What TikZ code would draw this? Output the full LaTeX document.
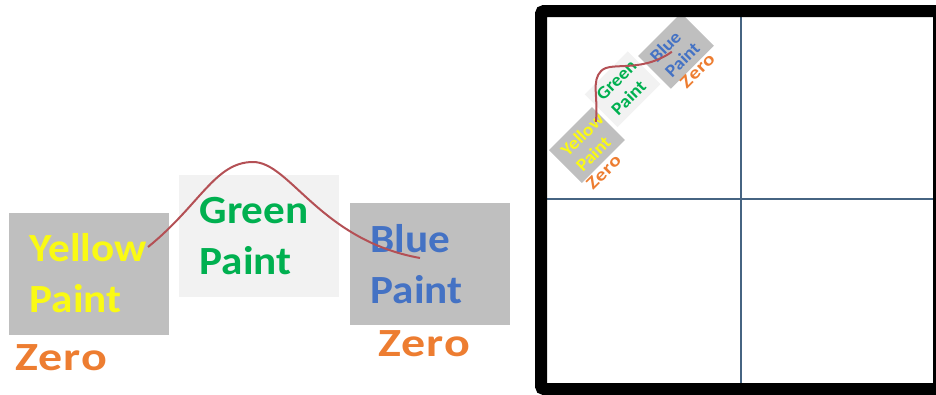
\documentclass[tikz,border=0pt]{standalone}
\usepackage{fontspec}
\setmainfont{Carlito}
\newfontfamily\paintfont[FakeStretch=1.08]{Carlito}
\newfontfamily\zerofont[FakeStretch=1.2,LetterSpace=3]{Carlito}
\usetikzlibrary{positioning}
\definecolor{boxgray}{RGB}{191,191,191}
\definecolor{boxlight}{RGB}{242,242,242}
\definecolor{paintyellow}{RGB}{250,250,20}
\definecolor{paintgreen}{RGB}{0,176,80}
\definecolor{paintblue}{RGB}{68,114,196}
\definecolor{zeroorange}{RGB}{237,125,49}
\definecolor{bumpred}{RGB}{180,80,85}
\definecolor{gridblue}{RGB}{70,100,130}
\def\paintsz{40}
\def\paintskip{51}

\tikzset{
  paintbox/.style={rectangle,inner xsep=21pt,inner ysep=0pt,
    minimum height=122pt,text width=118pt,align=left,
    font=\paintfont\bfseries\fontsize{\paintsz}{\paintskip}\selectfont},
  zero/.style={text=zeroorange,inner sep=0pt,anchor=base west,
    font=\zerofont\bfseries\fontsize{\paintsz}{\paintskip}\selectfont},
  bump/.style={draw=bumpred,line width=2pt},
  paints/.pic={
    \node[paintbox,fill=boxgray,text=paintyellow] (-yellow) at (88.5,273.5) {Yellow\\Paint};
    \node[paintbox,fill=boxlight,text=paintgreen] (-green) at (258.5,236) {Green\\Paint};
    \node[paintbox,fill=boxgray,text=paintblue] (-blue) at (429.5,264) {Blue\\Paint};
    \node[zero] (-zeroy) at (15,370) {Zero};
    \node[zero] (-zerob) at (378,356) {Zero};
    \coordinate (-from) at (148,247);
    \coordinate (-top) at (253,162);
    \coordinate (-to) at (420,258);
    \draw[bump] (-from) .. controls (200,205) and (215,162) .. (-top)
      .. controls (290,162) and (320,240) .. (-to);
  }
}

\begin{document}
\begin{tikzpicture}[x=1pt,y=-1pt]
  \useasboundingbox (0,0) rectangle (936,394);
  \clip (0,0) rectangle (936,394);

  % the paint chain
  \pic (big) at (0,0) {paints};

  % quadrants
  \draw[gridblue,line width=1.3pt] (741,17) -- (741,383);
  \draw[gridblue,line width=1.3pt] (547,199) -- (933,199);

  % small copy in the top left quadrant, text a bit larger
  \pic[rotate=45,scale=0.38,transform shape,
       /utils/exec={\def\paintsz{47}\def\paintskip{56}}] (small) at (489.7,95.3) {paints};

  \draw[line width=12pt,rounded corners=3pt] (541,11) rectangle (939,389);
\end{tikzpicture}
\end{document}
